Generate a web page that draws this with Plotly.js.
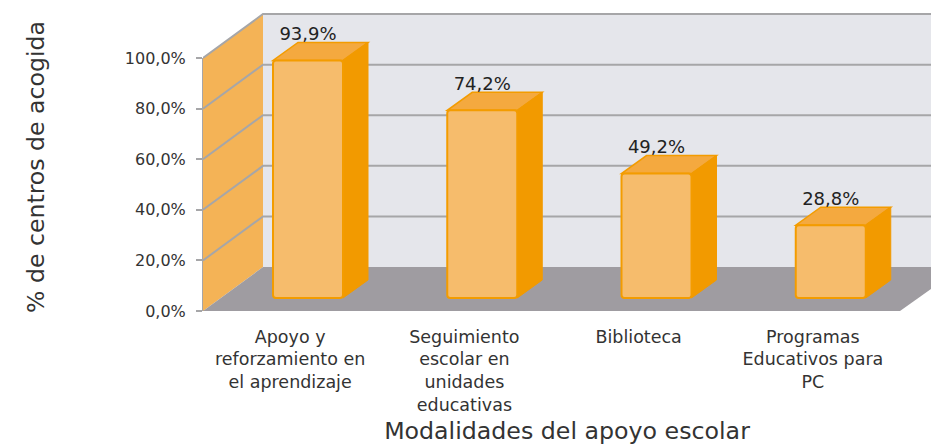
<!DOCTYPE html>
<html>
<head>
<meta charset="utf-8">
<script src="https://cdn.plot.ly/plotly-3.0.1.min.js"></script>
<style>html,body{margin:0;padding:0;background:#fff;overflow:hidden}</style>
</head>
<body>
<div id="chart" style="width:931px;height:445px"></div>
<script>
var categories = ["Apoyo y<br>reforzamiento en<br>el aprendizaje", "Seguimiento<br>escolar en<br>unidades<br>educativas", "Biblioteca", "Programas<br>Educativos para<br>PC"];
var values = [93.9, 74.2, 49.2, 28.8];
var valueLabels = ["93,9%", "74,2%", "49,2%", "28,8%"];
var yTicks = [0, 20, 40, 60, 80, 100];
var yTickLabels = ["0,0%", "20,0%", "40,0%", "60,0%", "80,0%", "100,0%"];
var xTitle = "Modalidades del apoyo escolar";
var yTitle = "% de centros de acogida";

var FONT = "'DejaVu Sans', sans-serif";
var PX_X = 174.25, PX_Y = 2.53;
var xMax = 728 / PX_X, yMax = 117.8, yMin = -10 / PX_Y;
var wallDx = 60 / PX_X, wallDy = 44 / PX_Y;
var barDx = 25 / PX_X, barDy = 18 / PX_Y;
var barBase = 13 / PX_Y, barW = 70 / PX_X, barOff = 70 / PX_X;
var GRID = "#a6a6a8";

function poly(pts) {
  return "M" + pts.map(function (p) { return p[0] + "," + p[1]; }).join(" L") + " Z";
}
function line(pts) {
  return "M" + pts.map(function (p) { return p[0] + "," + p[1]; }).join(" L");
}
function shape(path, fill, color, width) {
  return { type: "path", xref: "x", yref: "y", layer: "below", path: path,
           fillcolor: fill, line: { color: color || "rgba(0,0,0,0)", width: width || 0 } };
}

var shapes = [];
// back wall, side wall
shapes.push(shape(poly([[wallDx, wallDy], [xMax, wallDy], [xMax, 100 + wallDy], [wallDx, 100 + wallDy]]), "#e5e6eb"));
shapes.push(shape(poly([[0, 0], [wallDx, wallDy], [wallDx, 100 + wallDy], [0, 100]]), "#f4b356"));
// gridlines on both walls
yTicks.slice(1).forEach(function (v) {
  shapes.push({ type: "path", xref: "x", yref: "y", layer: "below",
    path: line([[0, v], [wallDx, v + wallDy], [xMax, v + wallDy]]),
    line: { color: GRID, width: 2 } });
});
// floor
shapes.push(shape(poly([[0, 0], [wallDx, wallDy], [xMax, wallDy], [xMax, 22 / PX_Y], [4, 0]]), "#9f9ca1"));
// value axis line
shapes.push({ type: "line", xref: "paper", yref: "y", layer: "below", x0: 0, x1: 0, y0: 0, y1: 100,
              line: { color: GRID, width: 2 } });
// bar top and side faces
var barX = values.map(function (v, i) { return i + barOff + barW / 2; });
values.forEach(function (v, i) {
  var l = i + barOff, r = l + barW, t = barBase + v, b = barBase;
  shapes.push(shape(poly([[l, t], [r, t], [r + barDx, t + barDy], [l + barDx, t + barDy]]), "#f4a93f", "#f39c00", 1.5));
  shapes.push(shape(poly([[r, t], [r + barDx, t + barDy], [r + barDx, b + barDy], [r, b]]), "#f29a00", "#f29a00", 1));
});

var traces = [
  { type: "bar", x: barX, y: values, base: barBase, width: barW, hoverinfo: "skip",
    marker: { color: "#f6bc6c", line: { color: "#f39c00", width: 2 } } },
  { type: "scatter", mode: "text", x: barX, hoverinfo: "skip", cliponaxis: false,
    y: values.map(function (v) { return v + barBase + 9.9; }), text: valueLabels,
    textposition: "middle center", textfont: { family: FONT, size: 18, color: "#222" } }
];

var layout = {
  width: 931, height: 445, showlegend: false, paper_bgcolor: "#fff", plot_bgcolor: "rgba(0,0,0,0)",
  margin: { l: 203, r: 0, t: 13, b: 124 },
  barcornerradius: 3,
  font: { family: FONT, color: "#333" },
  shapes: shapes,
  xaxis: { range: [0, xMax], showgrid: false, zeroline: false, showline: false, ticks: "",
           tickmode: "array", tickvals: categories.map(function (c, i) { return i + 0.5; }), ticktext: categories,
           tickangle: 0, ticklabelstandoff: 3, tickfont: { family: FONT, size: 17.5, color: "#333" },
           automargin: false,
           title: { text: xTitle, standoff: 30, font: { family: FONT, size: 23.7, color: "#333" } } },
  yaxis: { range: [yMin, yMax], showgrid: false, zeroline: false, showline: false, ticks: "outside", ticklen: 6,
           tickwidth: 2, tickcolor: GRID, tickmode: "array", tickvals: yTicks, ticktext: yTickLabels,
           ticklabelstandoff: 7, tickfont: { family: FONT, size: 16, color: "#333" }, automargin: false,
           title: { text: yTitle, standoff: 73, font: { family: FONT, size: 23.6, color: "#333" } } }
};
Plotly.newPlot("chart", traces, layout, { displayModeBar: false, staticPlot: true });
</script>
</body>
</html>
